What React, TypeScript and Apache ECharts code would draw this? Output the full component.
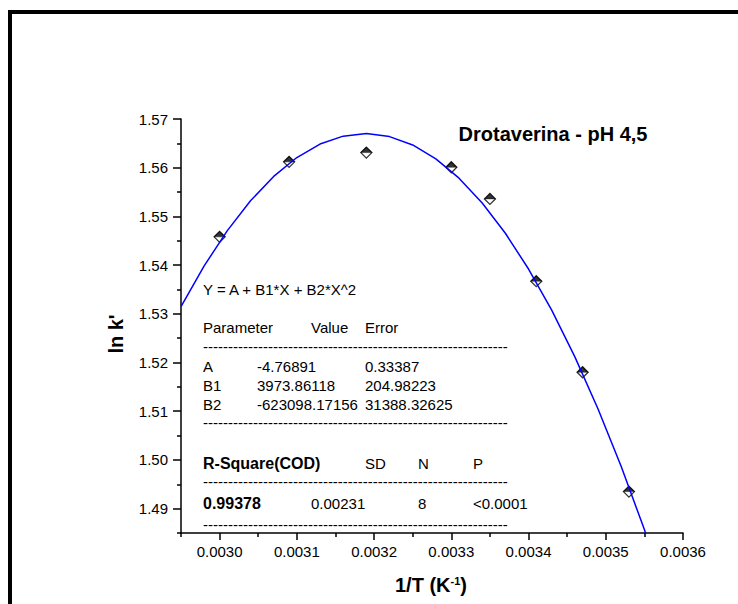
import React, { useEffect, useRef } from "react";
import * as echarts from "echarts";

// Measured points: 1/T (K^-1) and ln k'
const invT = [0.0030, 0.00309, 0.00319, 0.0033, 0.00335, 0.00341, 0.00347, 0.00353];
const lnK = [1.5458, 1.5612, 1.5631, 1.5601, 1.5536, 1.5367, 1.518, 1.4935];

// Fitted curve as drawn
const fitX = [0.00295, 0.00298, 0.00301, 0.00304, 0.00307, 0.0031, 0.00313, 0.00316, 0.00319, 0.00322, 0.00325,
  0.00328, 0.00331, 0.00334, 0.00337, 0.0034, 0.00343, 0.00346, 0.00349, 0.00352, 0.00355, 0.00358];
const fitY = [1.53147, 1.53984, 1.54708, 1.55321, 1.55821, 1.56209, 1.56485, 1.56648, 1.567, 1.56639, 1.56467,
  1.56182, 1.55785, 1.55275, 1.54654, 1.5392, 1.53075, 1.52117, 1.51047, 1.49865, 1.4857, 1.47164];

// Tick values
const xMajor = [0.003, 0.0031, 0.0032, 0.0033, 0.0034, 0.0035, 0.0036];
const xMinor = [0.00295, 0.00305, 0.00315, 0.00325, 0.00335, 0.00345, 0.00355];
const yMajor = [1.49, 1.5, 1.51, 1.52, 1.53, 1.54, 1.55, 1.56, 1.57];
const yMinor = [1.485, 1.495, 1.505, 1.515, 1.525, 1.535, 1.545, 1.555, 1.565];

// Fit report text
const equation = "Y = A + B1*X + B2*X^2";
const paramHeader = ["Parameter", "Value", "Error"];
const paramRows = [
  ["A", "-4.76891", "0.33387"],
  ["B1", "3973.86118", "204.98223"],
  ["B2", "-623098.17156", "31388.32625"],
];
const statHeader = ["R-Square(COD)", "SD", "N", "P"];
const statRow = ["0.99378", "0.00231", "8", "<0.0001"];
const chartTitle = "Drotaverina - pH 4,5";

const FONT = '"Liberation Sans", Arial, Helvetica, sans-serif';

export default function App() {
  const ref = useRef<HTMLDivElement>(null);
  useEffect(() => {
    if (!ref.current) return;
    const chart = echarts.init(ref.current, null, { renderer: "svg" });
    const dash = "-".repeat(61);
    const tb = (x: number, y: number, text: string, bold = false, size = 15) => ({
      type: "text",
      x,
      y,
      style: {
        text,
        fill: "#000",
        font: `${bold ? "bold " : ""}${size}px ${FONT}`,
        textAlign: "left",
        textVerticalAlign: "middle",
      },
    });
    const headX = [203, 311, 365];
    const rowX = [203, 257, 365];
    const statX = [203, 365, 418, 473];
    const statValX = [203, 311, 418, 473];
    const rowsY = [366, 385, 404];
    const graphics: any[] = [
      { type: "rect", shape: { x: 8, y: 10, width: 730, height: 4 }, style: { fill: "#000" } },
      { type: "rect", shape: { x: 8, y: 10, width: 4, height: 594 }, style: { fill: "#000" } },
      tb(203, 289, equation),
      ...paramHeader.map((t, i) => tb(headX[i], 327, t)),
      tb(203, 346, dash),
      ...paramRows.flatMap((r, ri) => r.map((t, i) => tb(rowX[i], rowsY[ri], t))),
      tb(203, 422, dash),
      ...statHeader.map((t, i) => tb(statX[i], 463, t, i === 0, i === 0 ? 16 : 15)),
      tb(203, 481, dash),
      ...statRow.map((t, i) => tb(statValX[i], 503, t, i === 0, i === 0 ? 16 : 15)),
      tb(203, 524, dash),
      {
        type: "text",
        x: 553,
        y: 134,
        style: {
          text: chartTitle,
          fill: "#000",
          font: `bold 20px ${FONT}`,
          textAlign: "center",
          textVerticalAlign: "middle",
        },
      },
      {
        type: "text",
        x: 116,
        y: 334,
        rotation: Math.PI / 2,
        style: {
          text: "ln k'",
          fill: "#000",
          font: `bold 20px ${FONT}`,
          textAlign: "center",
          textVerticalAlign: "middle",
        },
      },
      {
        type: "text",
        x: 431,
        y: 585,
        style: {
          text: "{a|1/T (K}{s|-1}{a|)}",
          textAlign: "center",
          textVerticalAlign: "middle",
          rich: {
            a: { fontSize: 20, fontWeight: "bold", fontFamily: FONT, color: "#000" },
            s: {
              fontSize: 11,
              fontWeight: "bold",
              fontFamily: FONT,
              color: "#000",
              verticalAlign: "bottom",
              padding: [0, 0, 9, 0],
            },
          },
        },
      },
    ];

    const axisLine = { show: true, lineStyle: { color: "#000", width: 1.5 } };
    const labelStyle = { color: "#000", fontSize: 15, fontFamily: FONT };

    chart.setOption({
      animation: false,
      backgroundColor: "#fff",
      grid: { left: 181, top: 119, width: 502, height: 414, containLabel: false },
      xAxis: [
        {
          type: "value",
          position: "bottom",
          min: 0.00295,
          max: 0.0036,
          axisLine,
          splitLine: { show: false },
          axisTick: { show: true, customValues: xMajor, length: 7, inside: false, lineStyle: { color: "#000", width: 1.5 } },
          axisLabel: { ...labelStyle, customValues: xMajor, margin: 11, formatter: (v: number) => v.toFixed(4) },
        },
        {
          type: "value",
          position: "bottom",
          min: 0.00295,
          max: 0.0036,
          axisLine: { show: false },
          splitLine: { show: false },
          axisTick: { show: true, customValues: xMinor, length: 4, inside: false, lineStyle: { color: "#000", width: 1.5 } },
          axisLabel: { show: false },
        },
      ],
      yAxis: [
        {
          type: "value",
          position: "left",
          min: 1.485,
          max: 1.57,
          axisLine,
          splitLine: { show: false },
          axisTick: { show: true, customValues: yMajor, length: 8, inside: false, lineStyle: { color: "#000", width: 1.5 } },
          axisLabel: { ...labelStyle, customValues: yMajor, margin: 13, formatter: (v: number) => v.toFixed(2) },
        },
        {
          type: "value",
          position: "left",
          min: 1.485,
          max: 1.57,
          axisLine: { show: false },
          splitLine: { show: false },
          axisTick: { show: true, customValues: yMinor, length: 4, inside: false, lineStyle: { color: "#000", width: 1.5 } },
          axisLabel: { show: false },
        },
      ],
      series: [
        {
          type: "scatter",
          xAxisIndex: 0,
          yAxisIndex: 0,
          data: invT.map((x, i) => [x, lnK[i]]),
          symbol: "diamond",
          symbolSize: 11,
          itemStyle: { color: "#fff", borderColor: "#000", borderWidth: 1.3 },
          z: 2,
        },
        {
          type: "scatter",
          xAxisIndex: 0,
          yAxisIndex: 0,
          data: invT.map((x, i) => [x, lnK[i]]),
          symbol: "path://M0,10 L10,0 L20,10 Z",
          symbolSize: [11, 5.5],
          symbolOffset: [0, -2.75],
          itemStyle: { color: "#000", borderColor: "#000", borderWidth: 0.5 },
          z: 3,
        },
        {
          type: "line",
          xAxisIndex: 0,
          yAxisIndex: 0,
          data: fitX.map((x, i) => [x, fitY[i]]),
          showSymbol: false,
          symbol: "none",
          clip: true,
          lineStyle: { color: "#0000ff", width: 1.5 },
          z: 4,
        },
      ],
      graphic: graphics,
    });
    return () => chart.dispose();
  }, []);
  return (
    <div
      ref={ref}
      style={{ position: "absolute", left: 0, top: 0, width: 738, height: 604, background: "#fff" }}
    />
  );
}
